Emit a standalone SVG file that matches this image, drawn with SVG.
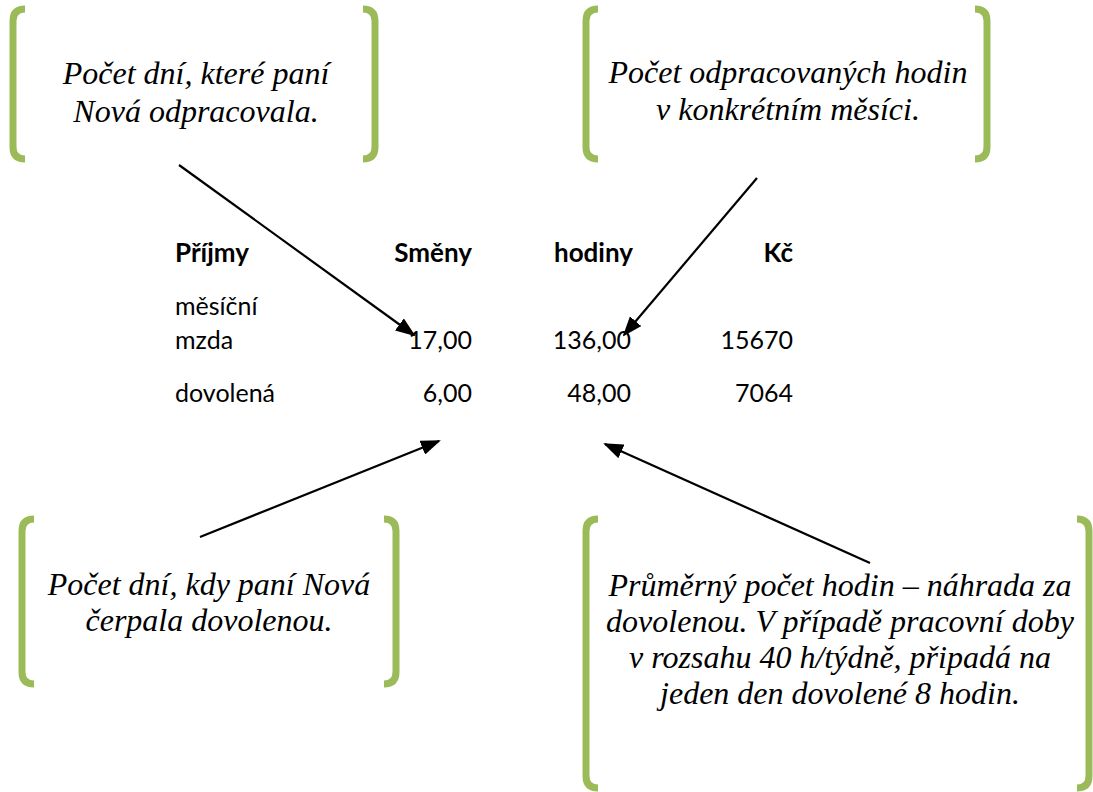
<svg xmlns="http://www.w3.org/2000/svg" width="1093" height="792" viewBox="0 0 1093 792">
<defs>
<marker id="ah" viewBox="0 0 10 10" refX="9" refY="5" markerWidth="20" markerHeight="15" markerUnits="userSpaceOnUse" orient="auto" preserveAspectRatio="none">
<path d="M0,0 L10,5 L0,10 z" fill="#000"/>
</marker>
</defs>
<rect width="1093" height="792" fill="#fff"/>
<g id="note1">
<path fill="none" stroke="#9BBB59" stroke-width="7" d="M25,9 Q13,9 13,21 V147 Q13,159 25,159"/>
<path fill="none" stroke="#9BBB59" stroke-width="7" d="M363,9 Q375,9 375,21 V147 Q375,159 363,159"/>
<text font-family="Liberation Serif" font-style="italic" font-size="32" text-anchor="middle" x="196" y="84">Počet dní, které paní</text>
<text font-family="Liberation Serif" font-style="italic" font-size="32" text-anchor="middle" x="196" y="122">Nová odpracovala.</text>
</g>
<g id="note2">
<path fill="none" stroke="#9BBB59" stroke-width="7" d="M598,9 Q586,9 586,21 V147 Q586,159 598,159"/>
<path fill="none" stroke="#9BBB59" stroke-width="7" d="M975,9 Q987,9 987,21 V147 Q987,159 975,159"/>
<text font-family="Liberation Serif" font-style="italic" font-size="32" text-anchor="middle" x="788" y="83">Počet odpracovaných hodin</text>
<text font-family="Liberation Serif" font-style="italic" font-size="32" text-anchor="middle" x="788" y="120">v konkrétním měsíci.</text>
</g>
<g id="note3">
<path fill="none" stroke="#9BBB59" stroke-width="7" d="M34,519 Q22,519 22,531 V672 Q22,684 34,684"/>
<path fill="none" stroke="#9BBB59" stroke-width="7" d="M384,519 Q396,519 396,531 V672 Q396,684 384,684"/>
<text font-family="Liberation Serif" font-style="italic" font-size="32" text-anchor="middle" x="209" y="595">Počet dní, kdy paní Nová</text>
<text font-family="Liberation Serif" font-style="italic" font-size="32" text-anchor="middle" x="209" y="631">čerpala dovolenou.</text>
</g>
<g id="note4">
<path fill="none" stroke="#9BBB59" stroke-width="7" d="M598,519 Q586,519 586,531 V776 Q586,788 598,788"/>
<path fill="none" stroke="#9BBB59" stroke-width="7" d="M1077,519 Q1089,519 1089,531 V776 Q1089,788 1077,788"/>
<text font-family="Liberation Serif" font-style="italic" font-size="32" text-anchor="middle" x="840" y="596">Průměrný počet hodin – náhrada za</text>
<text font-family="Liberation Serif" font-style="italic" font-size="32" text-anchor="middle" x="840" y="632">dovolenou. V případě pracovní doby</text>
<text font-family="Liberation Serif" font-style="italic" font-size="32" text-anchor="middle" x="840" y="668">v rozsahu 40 h/týdně, připadá na</text>
<text font-family="Liberation Serif" font-style="italic" font-size="32" text-anchor="middle" x="840" y="704">jeden den dovolené 8 hodin.</text>
</g>
<g id="table">
<text font-family="Lato" font-size="26" font-weight="bold" x="175" y="262">Příjmy</text>
<text font-family="Lato" font-size="26" font-weight="bold" text-anchor="end" x="472" y="262">Směny</text>
<text font-family="Lato" font-size="26" font-weight="bold" x="554" y="262">hodiny</text>
<text font-family="Lato" font-size="26" font-weight="bold" text-anchor="end" x="793" y="262">Kč</text>
<text font-family="Lato" font-size="25" x="175" y="315">měsíční</text>
<text font-family="Lato" font-size="25" x="175" y="349">mzda</text>
<text font-family="Lato" font-size="25" text-anchor="end" x="472" y="349">17,00</text>
<text font-family="Lato" font-size="25" text-anchor="end" x="631" y="349">136,00</text>
<text font-family="Lato" font-size="25" text-anchor="end" x="793" y="349">15670</text>
<text font-family="Lato" font-size="25" x="175" y="402">dovolená</text>
<text font-family="Lato" font-size="25" text-anchor="end" x="472" y="402">6,00</text>
<text font-family="Lato" font-size="25" text-anchor="end" x="631" y="402">48,00</text>
<text font-family="Lato" font-size="25" text-anchor="end" x="793" y="402">7064</text>
</g>
<g id="connectors" stroke="#000" stroke-width="2.2" fill="none">
<line x1="179" y1="165" x2="414" y2="335" marker-end="url(#ah)"/>
<line x1="757" y1="178" x2="624" y2="335" marker-end="url(#ah)"/>
<line x1="200" y1="537" x2="439" y2="441" marker-end="url(#ah)"/>
<line x1="870" y1="563" x2="605" y2="444" marker-end="url(#ah)"/>
</g>
</svg>
